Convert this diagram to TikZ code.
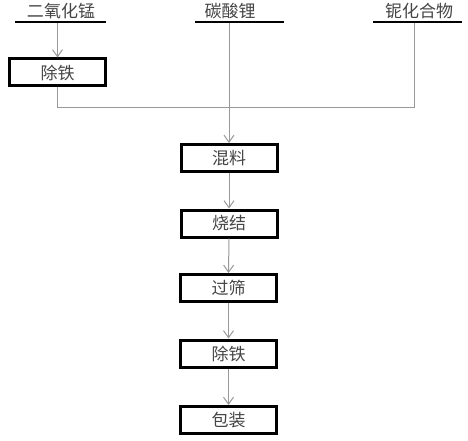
\documentclass[tikz,border=0pt]{standalone}
\usepackage{fontspec}
\newfontfamily\cjk{Noto Sans CJK SC}
\usetikzlibrary{arrows.meta}
\definecolor{txtgray}{HTML}{454545}
\definecolor{linegray}{HTML}{999999}
\begin{document}
\begin{tikzpicture}[x=1pt,y=-1pt,
  lbl/.style={inner sep=0pt,text=txtgray,font=\cjk\fontsize{17}{17}\selectfont},
  uline/.style={fill=black,inner sep=0pt,minimum height=2.4pt},
  procbox/.style={draw=black,line width=3pt,fill=white,minimum width=96pt,minimum height=27pt,inner sep=0pt,text=txtgray,font=\cjk\fontsize{17}{17}\selectfont},
  conn/.style={draw=linegray,line width=1pt},
  arr/.style={conn,-{Straight Barb[length=7pt,width=10pt,line width=1pt]}}]
\useasboundingbox (0,0) rectangle (468,441);
\fill[white] (0,0) rectangle (468,441);
% top labels
\node[lbl] (t1) at (61,11) {二氧化锰};
\node[lbl] (t2) at (230,11) {碳酸锂};
\node[lbl] (t3) at (419,11) {铌化合物};
\node[uline,minimum width=91pt] (u1) at (60.5,22) {};
\node[uline,minimum width=89pt] (u2) at (239.5,22) {};
\node[uline,minimum width=89pt] (u3) at (417.5,22) {};
% boxes
\node[procbox] (b0) at (57.5,72.5) {除铁};
\node[procbox] (b1) at (229,158) {混料};
\node[procbox] (b2) at (229,223.5) {烧结};
\node[procbox] (b3) at (228.5,288) {过筛};
\node[procbox] (b4) at (228.5,353.5) {除铁};
\node[procbox] (b5) at (228.5,420) {包装};
% junctions
\coordinate (j1) at (58,108);
\coordinate (j3) at (414,108);
% connectors
\draw[arr] (u1.south -| b0.north) -- (b0.north);
\draw[conn] (b0.south) -- (b0.south |- j1) -- (j3) -- (j3 |- u3.south);
\draw[arr] (u2.south -| b1.north) -- (b1.north);
\draw[arr] (b1.south) -- (b2.north);
\draw[arr] (b2.south) -- (b3.north);
\draw[arr] (b3.south) -- (b4.north);
\draw[arr] (b4.south) -- (b5.north);
\end{tikzpicture}
\end{document}
